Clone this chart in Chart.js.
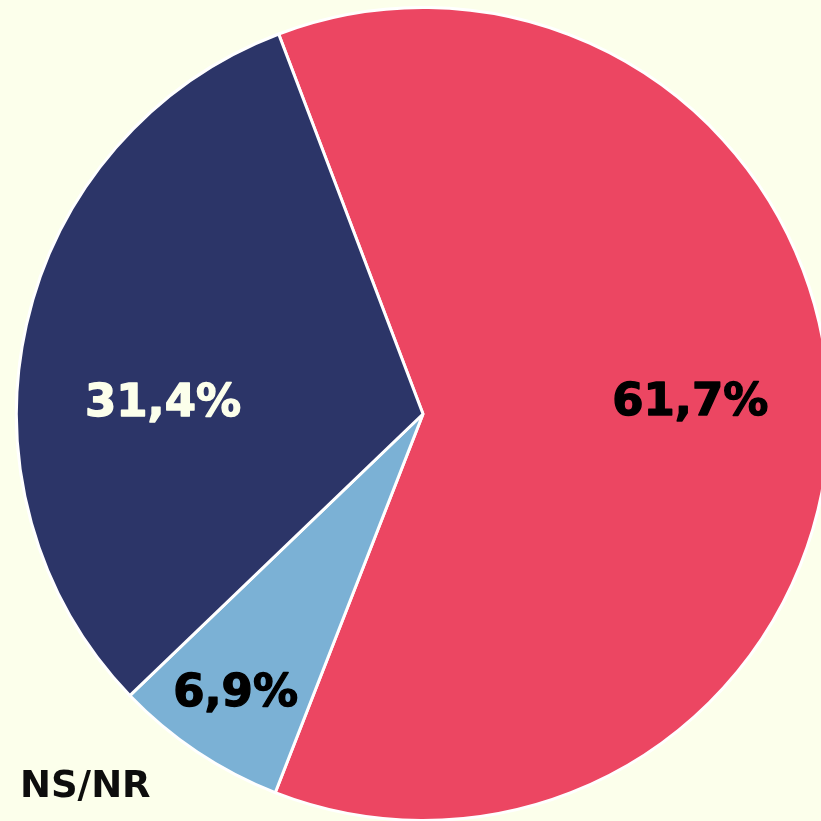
<!DOCTYPE html>
<html>
<head>
<meta charset="utf-8">
<script src="https://cdn.jsdelivr.net/npm/chart.js@4"></script>
<style>
  html, body { margin: 0; padding: 0; width: 821px; height: 821px; overflow: hidden; background: #fcffeb; }
  #wrap { position: absolute; left: 15px; top: 6px; width: 816px; height: 816px; }
  #nsnr { position: absolute; left: 20px; top: 763px; font-family: "DejaVu Sans", sans-serif; font-weight: 700; font-size: 37px; color: #0d0d0d; }
</style>
</head>
<body>
<div id="wrap"><canvas id="myChart"></canvas></div>
<div id="nsnr">NS/NR</div>
<script>
// Datos
const categorias = ['Sí', 'NS/NR', 'No'];
const valores = [61.7, 6.9, 31.4];
const etiquetas = ['61,7%', '6,9%', '31,4%'];
const colores = ['#ec4662', '#7bb1d5', '#2c3568'];
const coloresTexto = ['#000000', '#000000', '#fcffeb'];

// Colocación de las etiquetas (fracción del radio, desvío de ángulo en grados)
const colocacion = [[0.658, -2.6], [0.83, 0], [0.64, -10.6]];

const etiquetasPlugin = {
    id: 'etiquetas',
    afterDatasetsDraw(chart) {
        const ctx = chart.ctx;
        const meta = chart.getDatasetMeta(0);
        ctx.save();
        ctx.font = 'bold 45px "DejaVu Sans", sans-serif';
        ctx.textAlign = 'center';
        ctx.textBaseline = 'middle';
        ctx.lineWidth = 1.4;
        ctx.lineJoin = 'round';
        meta.data.forEach((arc, i) => {
            const a = (arc.startAngle + arc.endAngle) / 2 + colocacion[i][1] * Math.PI / 180;
            const r = arc.outerRadius * colocacion[i][0];
            const x = arc.x + r * Math.cos(a);
            const y = arc.y + r * Math.sin(a);
            ctx.fillStyle = coloresTexto[i];
            ctx.strokeStyle = coloresTexto[i];
            ctx.fillText(etiquetas[i], x, y);
            ctx.strokeText(etiquetas[i], x, y);
        });
        ctx.restore();
    }
};

const ctx = document.getElementById('myChart').getContext('2d');
const myChart = new Chart(ctx, {
    type: 'pie',
    data: {
        labels: categorias,
        datasets: [{
            data: valores,
            backgroundColor: colores,
            borderColor: '#ffffff',
            borderWidth: 3,
        }],
    },
    options: {
        responsive: true,
        maintainAspectRatio: false,
        animation: false,
        rotation: -20.8,
        layout: { padding: 0 },
        plugins: {
            legend: { display: false },
            tooltip: { enabled: false },
        },
    },
    plugins: [etiquetasPlugin],
});
</script>
</body>
</html>
